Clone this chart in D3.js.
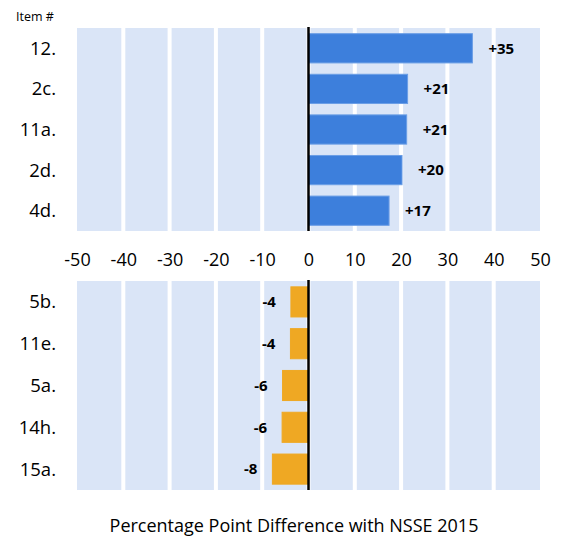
<!DOCTYPE html>
<html>
<head>
<meta charset="utf-8">
<script src="https://cdn.jsdelivr.net/npm/d3@7"></script>
<style>
  body { margin: 0; background: #fff; }
  text { font-family: 'Open Sans', 'Noto Sans', sans-serif; fill: #000; }
</style>
</head>
<body>
<div id="chart"></div>
<script>
// Items with higher / lower scores than NSSE 2015
const topItems = ["12.", "2c.", "11a.", "2d.", "4d."];
const topValues = [35.4, 21.4, 21.2, 20.2, 17.4];
const bottomItems = ["5b.", "11e.", "5a.", "14h.", "15a."];
const bottomValues = [-3.8, -3.9, -5.6, -5.7, -7.8];
const tickValues = [-50, -40, -30, -20, -10, 0, 10, 20, 30, 40, 50];

const width = 567, height = 537;
const svg = d3.select("#chart").append("svg")
    .attr("width", width)
    .attr("height", height);

const x = d3.scaleLinear().domain([-50, 50]).range([77, 540]);

function panel(items, values, top, bottom, color, stroke) {
    const y = d3.scaleBand().domain(items).range([top, bottom]).paddingInner(0.28).paddingOuter(0.14);
    const g = svg.append("g");

    // background columns with white gaps
    g.append("rect")
        .attr("x", x(-50)).attr("y", top)
        .attr("width", x(50) - x(-50)).attr("height", bottom - top)
        .attr("fill", "#dae5f7");
    g.selectAll("line.grid")
        .data(tickValues.slice(1, -1))
        .join("line")
        .attr("class", "grid")
        .attr("x1", d => x(d)).attr("x2", d => x(d))
        .attr("y1", top).attr("y2", bottom)
        .attr("stroke", "#fff").attr("stroke-width", 4);

    g.selectAll("rect.bar")
        .data(values)
        .join("rect")
        .attr("class", "bar")
        .attr("x", d => x(Math.min(0, d)))
        .attr("y", (d, i) => y(items[i]))
        .attr("width", d => Math.abs(x(d) - x(0)))
        .attr("height", y.bandwidth())
        .attr("fill", color)
        .attr("stroke", stroke).attr("stroke-width", 1);

    g.selectAll("text.val")
        .data(values)
        .join("text")
        .attr("class", "val")
        .attr("x", d => d >= 0 ? x(d) + 16 : x(d) - 15)
        .attr("y", (d, i) => y(items[i]) + y.bandwidth() / 2)
        .attr("dy", "0.35em")
        .attr("text-anchor", d => d >= 0 ? "start" : "end")
        .style("font-weight", "700")
        .style("font-size", "15px")
        .text(d => (d > 0 ? "+" : "") + Math.round(d));

    g.selectAll("text.cat")
        .data(items)
        .join("text")
        .attr("class", "cat")
        .attr("x", 56)
        .attr("y", d => y(d) + y.bandwidth() / 2)
        .attr("dy", "0.35em")
        .attr("text-anchor", "end")
        .style("font-size", "18.5px")
        .text(d => d);

    g.append("line")
        .attr("x1", x(0)).attr("x2", x(0))
        .attr("y1", top - 1).attr("y2", bottom)
        .attr("stroke", "#000").attr("stroke-width", 2.5);
}

panel(topItems, topValues, 28, 231, "#3d7fdc", "#6b9ee6");
panel(bottomItems, bottomValues, 281, 490, "#efa823", "#efa823");

// axis between the panels
const axis = d3.axisBottom(x).tickValues(tickValues).tickSize(0).tickPadding(0)
    .tickFormat(d => String(d));
const ag = svg.append("g").attr("transform", "translate(0,253)").call(axis);
ag.select(".domain").remove();
ag.selectAll("text")
    .style("font-size", "18px")
    .style("font-family", "'Open Sans', 'Noto Sans', sans-serif")
    .attr("fill", "#000");

svg.append("text")
    .attr("x", 16).attr("y", 21)
    .style("font-size", "12.5px")
    .text("Item #");

svg.append("text")
    .attr("x", 294).attr("y", 532)
    .attr("text-anchor", "middle")
    .style("font-size", "18px")
    .text("Percentage Point Difference with NSSE 2015");
</script>
</body>
</html>
